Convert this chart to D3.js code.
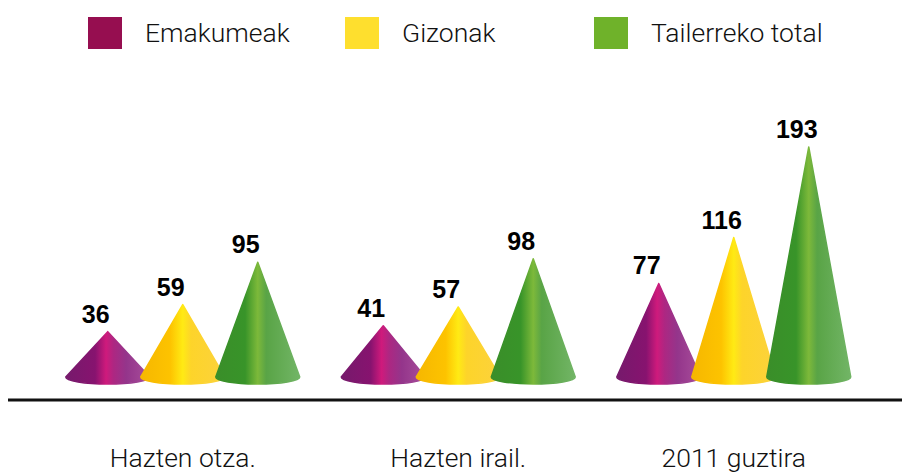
<!DOCTYPE html>
<html>
<head>
<meta charset="utf-8">
<script src="https://cdn.jsdelivr.net/npm/d3@7"></script>
<style>
  body { margin: 0; background: #fff; }
  .legend-text, .cat-label { font-family: Roboto, "Liberation Sans", sans-serif; font-weight: 300; fill: #111; }
  .value-label { font-family: "Liberation Sans", Arial, sans-serif; font-weight: bold; fill: #000; }
</style>
</head>
<body>
<div id="chart"></div>
<script>
// Chart data
const categories = ["Hazten otza.", "Hazten irail.", "2011 guztira"];
const series = ["Emakumeak", "Gizonak", "Tailerreko total"];
const emakumeak = [36, 41, 77];
const gizonak = [59, 57, 116];
const tailerreko = [95, 98, 193];
const seriesValues = [emakumeak, gizonak, tailerreko];

const legendColors = ["#960e50", "#fedf2e", "#6fb22a"];

// horizontal shading stops for each cone colour
const coneStops = [
    [["0%", "#761a6c"], ["35%", "#87136f"], ["48%", "#cf1a7c"], ["57%", "#ad2782"], ["72%", "#94358b"], ["100%", "#a84f9b"]],
    [["0%", "#f6b700"], ["35%", "#fdc300"], ["50%", "#ffea14"], ["60%", "#fdd42a"], ["100%", "#fcd23c"]],
    [["0%", "#3a8e29"], ["35%", "#389429"], ["50%", "#7db93a"], ["60%", "#59a446"], ["100%", "#72b566"]]
];

const width = 902;
const height = 472;

const svg = d3.select("#chart")
    .append("svg")
    .attr("width", width)
    .attr("height", height);

const defs = svg.append("defs");
coneStops.forEach((stops, i) => {
    const g = defs.append("linearGradient")
        .attr("id", "cone" + i)
        .attr("x1", "0%").attr("x2", "100%")
        .attr("y1", "0%").attr("y2", "0%");
    stops.forEach(s => g.append("stop").attr("offset", s[0]).attr("stop-color", s[1]));
});

// Scales
const x0 = d3.scaleBand()
    .domain(categories)
    .range([45, 871.5]);

const x1 = d3.scalePoint()
    .domain(series)
    .range([-75, 75]);

const y = d3.scaleLinear()
    .domain([0, 193])
    .range([374, 147]);

const baseY = 377;   // centre of the cone base ellipse
const rx = 42;
const ry = 7;

function conePath(cx, apexY) {
    return `M${cx},${apexY} L${cx - rx},${baseY} A${rx},${ry} 0 0 0 ${cx + rx},${baseY} Z`;
}

// Legend
const legendX = [88, 345, 594];
const legend = svg.append("g");
series.forEach((s, i) => {
    legend.append("rect")
        .attr("x", legendX[i])
        .attr("y", 17)
        .attr("width", 34)
        .attr("height", 32)
        .attr("fill", legendColors[i]);
    legend.append("text")
        .attr("class", "legend-text")
        .attr("x", legendX[i] + 57)
        .attr("y", 35)
        .attr("dominant-baseline", "middle")
        .style("font-size", "26.5px")
        .text(s);
});

// Cones
const groups = svg.append("g")
    .selectAll("g")
    .data(categories)
    .join("g")
    .attr("transform", d => `translate(${x0(d) + x0.bandwidth() / 2},0)`);

groups.each(function(cat, ci) {
    const g = d3.select(this);
    series.forEach((s, si) => {
        const v = seriesValues[si][ci];
        g.append("path")
            .attr("d", conePath(x1(s), y(v)))
            .attr("fill", `url(#cone${si})`)
            .attr("stroke", `url(#cone${si})`)
            .attr("stroke-width", 1.5)
            .attr("stroke-linejoin", "round");
        g.append("text")
            .attr("class", "value-label")
            .attr("x", x1(s) - 12)
            .attr("y", y(v) - 9)
            .attr("text-anchor", "middle")
            .style("font-size", "25px")
            .text(v);
    });
});

// Baseline
svg.append("line")
    .attr("x1", 8)
    .attr("x2", width)
    .attr("y1", 400)
    .attr("y2", 400)
    .attr("stroke", "#111")
    .attr("stroke-width", 3);

// Category labels
svg.append("g")
    .selectAll("text")
    .data(categories)
    .join("text")
    .attr("class", "cat-label")
    .attr("x", d => x0(d) + x0.bandwidth() / 2)
    .attr("y", 467)
    .attr("text-anchor", "middle")
    .style("font-size", "26.5px")
    .text(d => d);
</script>
</body>
</html>
